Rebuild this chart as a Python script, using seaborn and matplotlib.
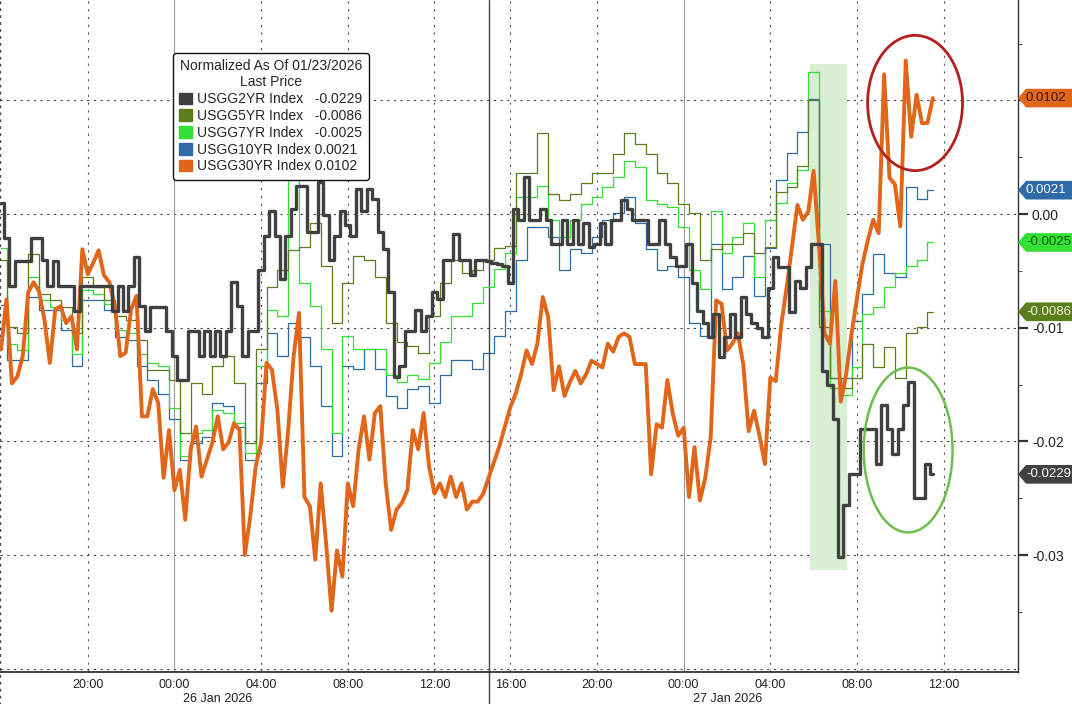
import numpy as np
import pandas as pd
import seaborn as sns
import matplotlib.pyplot as plt
import matplotlib.transforms as mtransforms
from matplotlib.patches import Ellipse, Rectangle, Patch, Polygon

# hours from 25 Jan 16:00 (overnight gap compressed as on the terminal)
hours_q = np.arange(173) * 0.25   # quarter-hour samples for the 2y and 30y
hours_h = np.arange(87) * 0.5     # half-hour samples for the thin lines

usgg2yr = [0.0010, -0.0021, -0.0063, -0.0041, -0.0041, -0.0041, -0.0021, -0.0021, -0.0040, -0.0063,
           -0.0041, -0.0063, -0.0063, -0.0063, -0.0085, -0.0063, -0.0063, -0.0063, -0.0063, -0.0063,
           -0.0063, -0.0085, -0.0063, -0.0085, -0.0063, -0.0038, -0.0081, -0.0103, -0.0082, -0.0082,
           -0.0082, -0.0103, -0.0125, -0.0146, -0.0146, -0.0103, -0.0103, -0.0125, -0.0103, -0.0125,
           -0.0103, -0.0125, -0.0103, -0.0060, -0.0081, -0.0125, -0.0103, -0.0103, -0.0049, -0.0019,
           0.0003, -0.0019, -0.0057, -0.0019, 0.0004, 0.0025, 0.0025, -0.0016, -0.0016, 0.0028,
           -0.0001, -0.0040, -0.0019, 0.0003, -0.0010, -0.0019, 0.0022, 0.0003, 0.0022, 0.0013,
           -0.0016, -0.0031, -0.0069, -0.0143, -0.0134, -0.0103, -0.0103, -0.0084, -0.0103, -0.0090,
           -0.0069, -0.0075, -0.0040, -0.0040, -0.0018, -0.0040, -0.0040, -0.0054, -0.0040, -0.0040,
           -0.0041, -0.0043, -0.0044, -0.0046, -0.0061, 0.0004, -0.0005, 0.0033, -0.0005, -0.0005,
           0.0004, -0.0005, -0.0026, -0.0026, -0.0005, -0.0026, -0.0005, -0.0026, -0.0008, -0.0029,
           -0.0026, -0.0008, -0.0026, -0.0005, -0.0005, 0.0012, 0.0004, -0.0005, -0.0005, -0.0005,
           -0.0026, -0.0026, -0.0005, -0.0026, -0.0038, -0.0046, -0.0046, -0.0026, -0.0061, -0.0085,
           -0.0096, -0.0108, -0.0088, -0.0126, -0.0108, -0.0088, -0.0108, -0.0073, -0.0088, -0.0096,
           -0.0100, -0.0108, -0.0065, -0.0038, -0.0047, -0.0047, -0.0086, -0.0059, -0.0065, -0.0047,
           -0.0026, -0.0026, -0.0138, -0.0150, -0.0180, -0.0302, -0.0256, -0.0229, -0.0229, -0.0189,
           -0.0189, -0.0189, -0.0220, -0.0168, -0.0189, -0.0211, -0.0189, -0.0168, -0.0148, -0.0250,
           -0.0250, -0.0220, -0.0229]

usgg30yr = [-0.0119, -0.0075, -0.0149, -0.0143, -0.0125, -0.0069, -0.0060, -0.0068, -0.0093, -0.0131,
            -0.0084, -0.0081, -0.0096, -0.0090, -0.0119, -0.0031, -0.0053, -0.0043, -0.0032, -0.0054,
            -0.0060, -0.0081, -0.0125, -0.0122, -0.0084, -0.0072, -0.0178, -0.0178, -0.0154, -0.0166,
            -0.0232, -0.0190, -0.0243, -0.0225, -0.0269, -0.0207, -0.0187, -0.0231, -0.0216, -0.0201,
            -0.0178, -0.0207, -0.0201, -0.0184, -0.0190, -0.0300, -0.0266, -0.0222, -0.0201, -0.0131,
            -0.0137, -0.0172, -0.0240, -0.0190, -0.0125, -0.0087, -0.0249, -0.0257, -0.0304, -0.0237,
            -0.0290, -0.0349, -0.0296, -0.0319, -0.0237, -0.0257, -0.0207, -0.0178, -0.0216, -0.0175,
            -0.0169, -0.0237, -0.0278, -0.0260, -0.0254, -0.0243, -0.0190, -0.0207, -0.0175, -0.0222,
            -0.0246, -0.0237, -0.0249, -0.0231, -0.0249, -0.0237, -0.0260, -0.0253, -0.0253, -0.0246,
            -0.0232, -0.0218, -0.0204, -0.0187, -0.0170, -0.0158, -0.0141, -0.0120, -0.0132, -0.0114,
            -0.0073, -0.0091, -0.0155, -0.0134, -0.0160, -0.0148, -0.0138, -0.0149, -0.0141, -0.0129,
            -0.0132, -0.0135, -0.0114, -0.0121, -0.0108, -0.0105, -0.0108, -0.0132, -0.0132, -0.0132,
            -0.0229, -0.0185, -0.0188, -0.0146, -0.0176, -0.0195, -0.0188, -0.0249, -0.0205, -0.0252,
            -0.0232, -0.0196, -0.0076, -0.0079, -0.0120, -0.0114, -0.0105, -0.0132, -0.0191, -0.0173,
            -0.0195, -0.0220, -0.0144, -0.0147, -0.0098, -0.0065, -0.0029, 0.0008, -0.0005, 0.0002,
            0.0038, -0.0029, -0.0105, -0.0114, -0.0059, -0.0165, -0.0141, -0.0105, -0.0074, -0.0044,
            -0.0023, -0.0005, -0.0017, 0.0123, 0.0032, 0.0026, -0.0011, 0.0135, 0.0068, 0.0105,
            0.0080, 0.0080, 0.0102]

usgg5yr = [-0.0040, -0.0099, -0.0105, -0.0035, -0.0070, -0.0076, -0.0082, -0.0105, -0.0055, -0.0064,
           -0.0076, -0.0090, -0.0093, -0.0111, -0.0137, -0.0137, -0.0146, -0.0193, -0.0149, -0.0158,
           -0.0134, -0.0125, -0.0149, -0.0201, -0.0119, -0.0064, -0.0049, -0.0032, -0.0029, -0.0008,
           -0.0046, -0.0096, -0.0061, -0.0037, -0.0040, -0.0055, -0.0096, -0.0113, -0.0116, -0.0122,
           -0.0090, -0.0061, -0.0040, -0.0052, -0.0049, -0.0040, -0.0030, -0.0028, 0.0036, 0.0036,
           0.0071, 0.0018, 0.0012, 0.0018, 0.0027, 0.0036, 0.0036, 0.0053, 0.0071, 0.0062,
           0.0053, 0.0036, 0.0027, 0.0009, 0.0001, -0.0040, -0.0031, -0.0026, -0.0026, -0.0017,
           -0.0034, -0.0029, 0.0019, 0.0024, 0.0042, 0.0100, -0.0099, -0.0144, -0.0153, -0.0144,
           -0.0114, -0.0135, -0.0117, -0.0144, -0.0105, -0.0099, -0.0086]

usgg7yr = [-0.0030, -0.0114, -0.0120, -0.0055, -0.0076, -0.0082, -0.0093, -0.0123, -0.0067, -0.0070,
           -0.0079, -0.0102, -0.0105, -0.0123, -0.0131, -0.0134, -0.0171, -0.0213, -0.0193, -0.0190,
           -0.0172, -0.0175, -0.0184, -0.0210, -0.0134, -0.0084, -0.0090, 0.0030, -0.0061, -0.0081,
           -0.0119, -0.0193, -0.0107, -0.0119, -0.0119, -0.0119, -0.0142, -0.0148, -0.0142, -0.0145,
           -0.0131, -0.0113, -0.0090, -0.0090, -0.0078, -0.0064, -0.0048, -0.0034, 0.0015, 0.0015,
           0.0025, -0.0005, -0.0020, -0.0005, 0.0009, 0.0015, 0.0024, 0.0033, 0.0047, 0.0041,
           0.0012, 0.0009, 0.0006, -0.0011, -0.0049, -0.0066, 0.0003, -0.0034, -0.0020, -0.0008,
           -0.0055, -0.0005, 0.0010, 0.0027, 0.0039, 0.0125, -0.0085, -0.0153, -0.0159, -0.0135,
           -0.0088, -0.0082, -0.0064, -0.0052, -0.0046, -0.0040, -0.0025]

usgg10yr = [-0.0080, -0.0128, -0.0128, -0.0073, -0.0084, -0.0084, -0.0102, -0.0134, -0.0076, -0.0076,
            -0.0084, -0.0108, -0.0111, -0.0134, -0.0146, -0.0158, -0.0180, -0.0216, -0.0201, -0.0196,
            -0.0166, -0.0169, -0.0187, -0.0216, -0.0149, -0.0105, -0.0125, -0.0096, -0.0108, -0.0134,
            -0.0169, -0.0213, -0.0134, -0.0136, -0.0119, -0.0136, -0.0160, -0.0171, -0.0154, -0.0151,
            -0.0166, -0.0142, -0.0128, -0.0128, -0.0136, -0.0122, -0.0107, -0.0085, -0.0040, -0.0011,
            -0.0011, -0.0020, -0.0049, -0.0031, -0.0034, -0.0020, -0.0005, 0.0001, 0.0015, -0.0008,
            -0.0031, -0.0049, -0.0046, -0.0055, -0.0096, -0.0107, -0.0026, -0.0066, -0.0055, -0.0037,
            -0.0072, -0.0030, 0.0030, 0.0054, 0.0072, 0.0101, -0.0026, -0.0144, -0.0144, -0.0094,
            -0.0070, -0.0035, -0.0052, -0.0055, 0.0024, 0.0013, 0.0021]

names = ["USGG2YR Index", "USGG5YR Index", "USGG7YR Index", "USGG10YR Index", "USGG30YR Index"]
last_labels = ["-0.0229", "-0.0086", "-0.0025", "0.0021", "0.0102"]
legend_labels = ["USGG2YR Index   -0.0229", "USGG5YR Index   -0.0086", "USGG7YR Index   -0.0025",
                 "USGG10YR Index 0.0021", "USGG30YR Index 0.0102"]
colors = ["#404040", "#5a7e1c", "#33e033", "#2e6aa5", "#e2661a"]
tag_text_colors = ["white", "#eef5e0", "#0b5a0b", "white", "#3a1400"]

tick_pos = [4, 8, 12, 16, 20, 23.5, 27.5, 31.5, 35.5, 39.5, 43.5]
tick_lab = ["20:00", "00:00", "04:00", "08:00", "12:00", "16:00", "20:00", "00:00", "04:00", "08:00", "12:00"]
midnight_pos = [8, 31.5]
break_pos = 22.5

for s in [usgg2yr, usgg30yr]:
    assert len(s) == len(hours_q)
for s in [usgg5yr, usgg7yr, usgg10yr]:
    assert len(s) == len(hours_h)

fine = pd.DataFrame({"hour": hours_q, "2y": usgg2yr, "30y": usgg30yr})
coarse = pd.DataFrame({"hour": hours_h, "5y": usgg5yr, "7y": usgg7yr, "10y": usgg10yr})

sns.set_style("white")
plt.rcParams["font.family"] = ["Liberation Sans", "DejaVu Sans"]
plt.rcParams["axes.unicode_minus"] = False

fig = plt.figure(figsize=(10.72, 7.04), dpi=100)
ax = fig.add_axes([0, 32 / 704, 1018 / 1072, 672 / 704])
ax.set_xlim(-0.05, 46.93)
ax.set_ylim(-0.04029, 0.01883)

# grid
for yv in [0.01, 0.0, -0.01, -0.02, -0.03, -0.04]:
    ax.axhline(yv, color="#444444", lw=0.8, ls=(0, (2, 4)), zorder=1)
for xv in tick_pos:
    if xv in midnight_pos:
        ax.axvline(xv, color="#9a9a9a", lw=0.8, zorder=1)
    else:
        ax.axvline(xv, color="#555555", lw=0.8, ls=(0, (2, 5)), zorder=1)
ax.plot([break_pos, break_pos], [-0.052, 1], color="#444444", lw=1.0, zorder=1, clip_on=False,
        transform=mtransforms.blended_transform_factory(ax.transData, ax.transAxes))
ax.plot([0, 0], [-0.052, 1], color="#444444", lw=1.0, ls=(0, (2, 3)), zorder=1, clip_on=False,
        transform=ax.transAxes)

# highlighted window
ax.add_patch(Rectangle((37.33, -0.0313), 1.71, 0.0445, facecolor="#d9efd4", edgecolor="none", zorder=1.5))

# lines
sns.lineplot(data=coarse, x="hour", y="10y", color=colors[3], lw=0.9, drawstyle="steps-mid", ax=ax, zorder=2)
sns.lineplot(data=coarse, x="hour", y="7y", color=colors[2], lw=0.9, drawstyle="steps-mid", ax=ax, zorder=2.1)
sns.lineplot(data=coarse, x="hour", y="5y", color=colors[1], lw=0.9, drawstyle="steps-mid", ax=ax, zorder=2.2)
sns.lineplot(data=fine, x="hour", y="30y", color=colors[4], lw=2.8, ax=ax, zorder=3)
sns.lineplot(data=fine, x="hour", y="2y", color=colors[0], lw=2.4, drawstyle="steps-mid", ax=ax, zorder=3.5)

# circles
ax.add_patch(Ellipse((42.18, 0.00977), 4.38, 0.0119, fill=False, edgecolor="#b3201d", lw=2.0, zorder=6))
ax.add_patch(Ellipse((41.86, -0.02076), 4.1, 0.0145, fill=False, edgecolor="#6cbf4e", lw=1.8, zorder=6))

# axes cosmetics
ax.set_xlabel("")
ax.set_ylabel("")
for side in ["top", "left"]:
    ax.spines[side].set_visible(False)
ax.spines["right"].set_color("#333333")
ax.spines["bottom"].set_color("#222222")
ax.spines["right"].set_linewidth(1.0)
ax.spines["bottom"].set_linewidth(1.2)

ax.set_xticks(tick_pos)
ax.set_xticklabels(tick_lab)
ax.set_xticks([2, 6, 10, 14, 18, 21.5, 25.5, 29.5, 33.5, 37.5, 41.5, 45.5], minor=True)
ax.tick_params(axis="x", which="major", length=4, color="#333333", labelsize=9, pad=1, labelcolor="#222222")
ax.tick_params(axis="x", which="minor", length=3, color="#333333")

ax.yaxis.tick_right()
ax.set_yticks([-0.03, -0.02, -0.01, 0.0, 0.01])
ax.set_yticklabels(["-0.03", "-0.02", "-0.01", "0.00", ""])
ax.set_yticks([-0.035, -0.025, -0.015, -0.005, 0.005, 0.015], minor=True)
ax.tick_params(axis="y", which="major", length=7, width=1.6, color="#333333", labelsize=10, pad=3,
               labelcolor="#222222")
ax.tick_params(axis="y", which="minor", length=3, color="#333333")

# date labels
date_tr = mtransforms.blended_transform_factory(ax.transData, ax.transAxes)
ax.text(10.0, -0.0395, "26 Jan 2026", transform=date_tr, ha="center", va="center", fontsize=9, color="#222222")
ax.text(33.55, -0.0395, "27 Jan 2026", transform=date_tr, ha="center", va="center", fontsize=9, color="#222222")

# last value tags on the right
tag_tr = mtransforms.blended_transform_factory(fig.transFigure, ax.transData)
last_vals = [usgg2yr[-1], usgg5yr[-1], usgg7yr[-1], usgg10yr[-1], usgg30yr[-1]]
hh = 0.00082
for v, lab, c, tc in zip(last_vals, last_labels, colors, tag_text_colors):
    pts = [(1018 / 1072, v), (1026 / 1072, v + hh), (1.0, v + hh), (1.0, v - hh), (1026 / 1072, v - hh)]
    ax.add_patch(Polygon(pts, closed=True, facecolor=c, edgecolor="none", transform=tag_tr,
                         clip_on=False, zorder=10))
    ax.text(1026 / 1072, v, lab, transform=tag_tr, ha="left", va="center", fontsize=9.5,
            color=tc, zorder=11, clip_on=False)

# legend
handles = [Patch(facecolor=c, edgecolor=c) for c in colors]
leg = ax.legend(handles, legend_labels, title="Normalized As Of 01/23/2026\nLast Price",
                loc="upper left", bbox_to_anchor=(173 / 1018, 1 - 53 / 672), frameon=True,
                fancybox=True, fontsize=10, title_fontsize=10, handlelength=0.9, handleheight=0.9,
                handletextpad=0.4, borderpad=0.45, labelspacing=0.2, borderaxespad=0)
leg.get_title().set_multialignment("center")
leg.get_frame().set_edgecolor("#111111")
leg.get_frame().set_linewidth(1.0)
leg.get_frame().set_alpha(1)
leg.set_zorder(12)

fig.savefig("out.png", dpi=100, facecolor="white")
